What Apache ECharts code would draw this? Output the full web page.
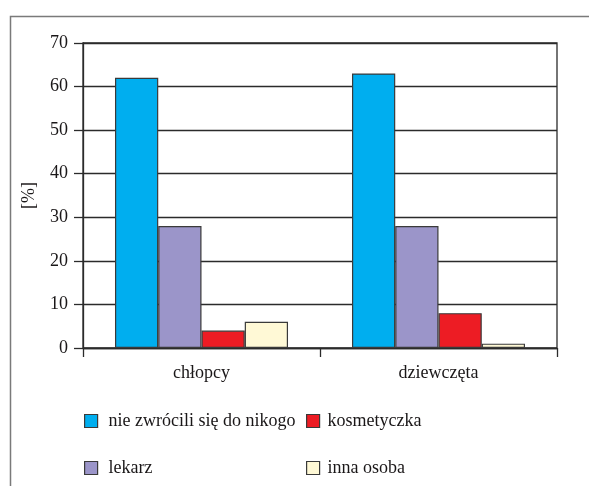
<!DOCTYPE html>
<html>
<head>
<meta charset="utf-8">
<script src="https://cdn.jsdelivr.net/npm/echarts@6/dist/echarts.min.js"></script>
<style>
  html, body { margin: 0; padding: 0; background: #fff; }
  #chart { width: 589px; height: 486px; }
</style>
</head>
<body>
<div id="chart"></div>
<script>
// Groups on the horizontal axis
const categories = ['chłopcy', 'dziewczęta'];

// Share of respondents [%] for each answer
const seriesNames = ['nie zwrócili się do nikogo', 'lekarz', 'kosmetyczka', 'inna osoba'];
const nobody      = [62, 63];
const doctor      = [28, 28];
const beautician  = [4, 8];
const otherPerson = [6, 1];

const yTicks = { min: 0, max: 70, interval: 10 };

const colors = ['#00AEEF', '#9B95C9', '#ED1C24', '#FFF9D6'];
const values = [nobody, doctor, beautician, otherPerson];

const FONT = '"Liberation Serif", "Times New Roman", serif';
const TEXT = '#1a1718';

const chart = echarts.init(document.getElementById('chart'), null, { renderer: 'canvas' });

// Legend laid out as a 2 x 2 block under the plot
const legendPos = [
  { left: 84,  top: 412, pad: 6 },
  { left: 84,  top: 459, pad: 6 },
  { left: 306, top: 412, pad: 3 },
  { left: 306, top: 459, pad: 3 }
];

chart.setOption({
  animation: false,
  backgroundColor: '#fff',
  textStyle: { fontFamily: FONT, color: TEXT },
  graphic: [{
    type: 'rect',
    left: 8, top: 14,
    shape: { width: 620, height: 520 },
    style: { fill: 'none', stroke: '#7a7a7a', lineWidth: 1.5 },
    silent: true, z: -10
  }],
  legend: seriesNames.map((name, i) => ({
    data: [name],
    left: legendPos[i].left,
    top: legendPos[i].top,
    padding: 0,
    itemWidth: 13,
    itemHeight: 13,
    itemGap: 0,
    icon: 'rect',
    selectedMode: false,
    itemStyle: { borderColor: '#3a3a3a', borderWidth: 1.2 },
    textStyle: { fontFamily: FONT, fontSize: 18, color: TEXT, padding: [0, 0, 0, legendPos[i].pad] }
  })),
  grid: {
    left: 83, right: 32, top: 43, bottom: 138,
    show: true, borderColor: '#2b2b2b', borderWidth: 1.3,
    containLabel: false
  },
  xAxis: {
    type: 'category',
    data: categories,
    axisLine: { show: true, lineStyle: { color: '#2b2b2b', width: 1.3 } },
    axisTick: { show: true, length: 9, alignWithLabel: false, lineStyle: { color: '#2b2b2b', width: 1.3 } },
    axisLabel: { fontFamily: FONT, fontSize: 18, color: TEXT, margin: 16 },
    splitLine: { show: false }
  },
  yAxis: {
    type: 'value',
    min: yTicks.min, max: yTicks.max, interval: yTicks.interval,
    name: '[%]',
    nameLocation: 'middle',
    nameRotate: 90,
    nameGap: 45,
    nameTextStyle: { fontFamily: FONT, fontSize: 18, color: TEXT },
    axisLine: { show: true, lineStyle: { color: '#2b2b2b', width: 1.3 } },
    axisTick: { show: true, length: 9, lineStyle: { color: '#2b2b2b', width: 1.3 } },
    axisLabel: { fontFamily: FONT, fontSize: 18, color: TEXT, margin: 15 },
    splitLine: { show: true, lineStyle: { color: '#2b2b2b', width: 1.3 } }
  },
  series: seriesNames.map((name, i) => ({
    name,
    type: 'bar',
    data: values[i],
    barGap: '0%',
    barCategoryGap: '27%',
    itemStyle: { color: colors[i], borderColor: '#3a3a3a', borderWidth: 1.2 }
  }))
});
</script>
</body>
</html>
